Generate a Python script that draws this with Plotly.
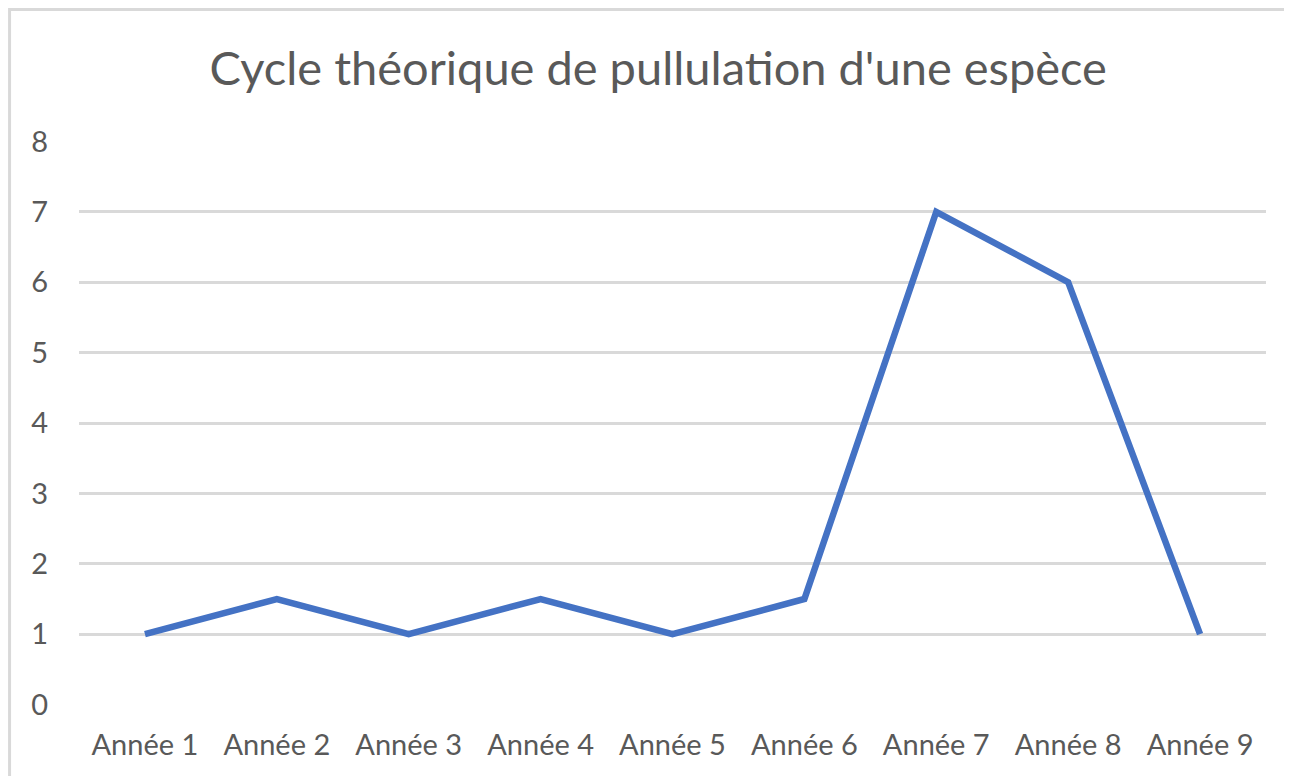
import plotly.graph_objects as go

categories = ["Année 1", "Année 2", "Année 3", "Année 4", "Année 5",
              "Année 6", "Année 7", "Année 8", "Année 9"]
values = [1, 1.5, 1, 1.5, 1, 1.5, 7, 6, 1]
y_ticks = [0, 1, 2, 3, 4, 5, 6, 7, 8]
title_text = "Cycle théorique de pullulation d'une espèce"

FONT = "Lato"
GRAY = "#595959"

fig = go.Figure()
fig.add_trace(go.Scatter(
    x=categories, y=values, mode="lines",
    line=dict(color="#4472C4", width=6.5),
    hoverinfo="x+y",
))

fig.update_layout(
    width=1276, height=768,
    margin=dict(l=71, r=18, t=133, b=71),
    paper_bgcolor="white", plot_bgcolor="white",
    showlegend=False,
    title=dict(text=title_text, x=0.488, xanchor="center", y=0.921, yanchor="middle",
               xref="paper",
               font=dict(family=FONT, size=47, color=GRAY)),
    font=dict(family=FONT, color=GRAY),
)
fig.update_xaxes(
    type="category", range=[-0.5, 8.5], showgrid=False, zeroline=False, showline=False,
    ticks="", tickfont=dict(family=FONT, size=29, color=GRAY),
    ticklabelstandoff=20,
)
fig.update_yaxes(
    range=[-0.006, 8.006], tickvals=y_ticks, showgrid=True, gridcolor="#d9d9d9", gridwidth=2.5,
    zeroline=False, showline=False, ticks="",
    tickfont=dict(family=FONT, size=29, color=GRAY),
    ticklabelstandoff=30,
)
fig.add_shape(type="rect", xref="paper", yref="paper",
              x0=-0.0585, x1=1.1, y0=-0.3, y1=1.233,
              line=dict(color="#d9d9d9", width=3), fillcolor="rgba(0,0,0,0)", layer="below")

fig.write_html("out.html")
